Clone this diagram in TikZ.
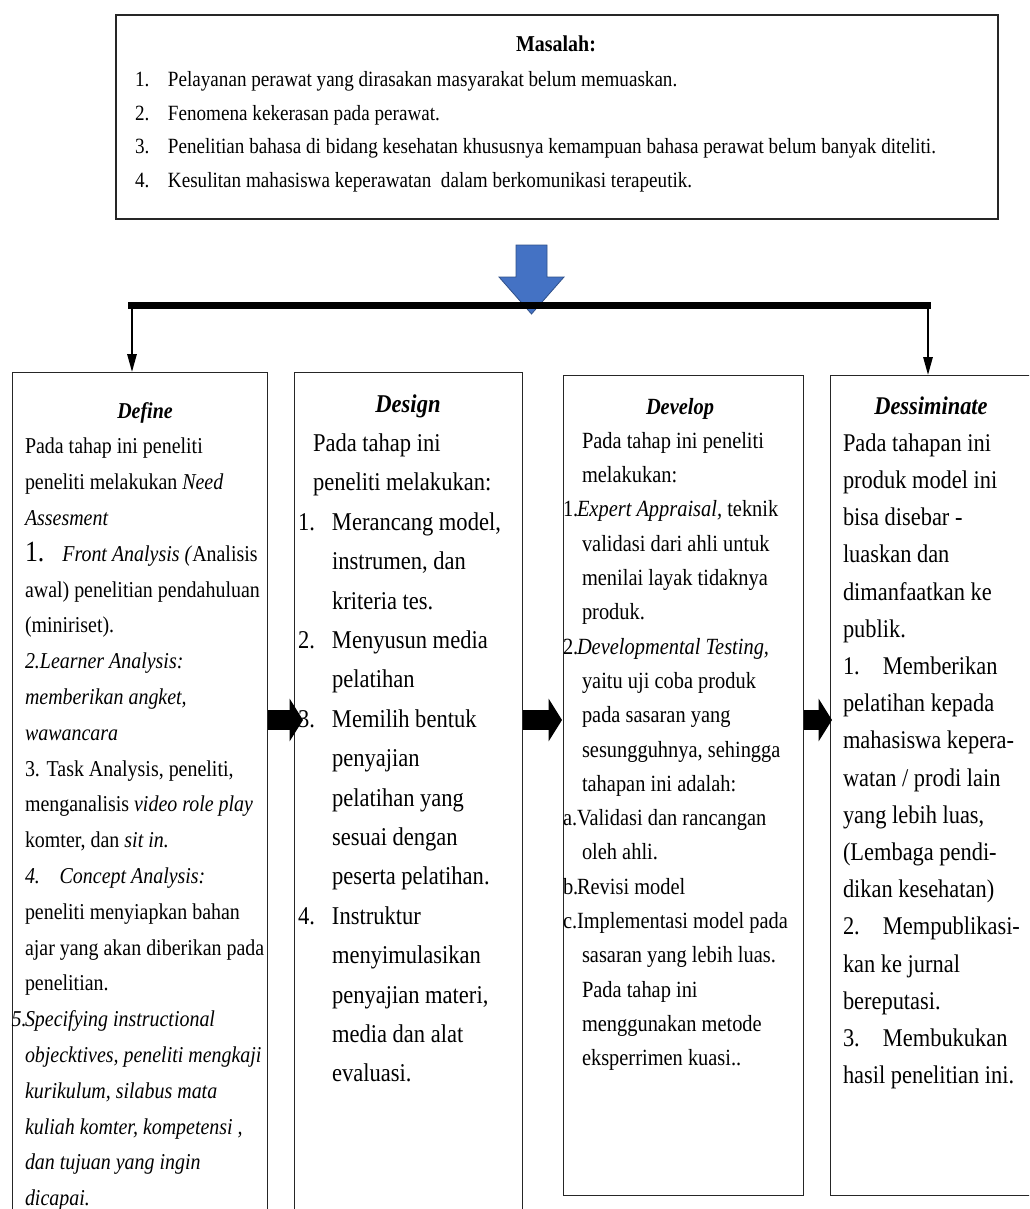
\documentclass[tikz,border=0pt]{standalone}
\usepackage{fontspec}
\setmainfont{Liberation Serif}[FakeStretch=0.88]
\usetikzlibrary{arrows.meta}

% fixed-width slot for list numbers
\newcommand\numbox[2]{\makebox[#1][l]{#2}}
\newcommand\fMas{\fontsize{16.3}{19}\selectfont}
\newcommand\fDef{\fontsize{17}{20}\selectfont}
\newcommand\fDes{\fontsize{19.2}{22}\selectfont}
\newcommand\fDev{\fontsize{17.4}{20}\selectfont}
\newcommand\fDis{\fontsize{19.1}{22}\selectfont}

\begin{document}
\begin{tikzpicture}[x=0.75pt,y=-0.75pt,
  frame/.style={draw=black!85, line width=1.1pt, rectangle, inner sep=0pt, anchor=north west},
  ln/.style={anchor=base west, inner sep=0pt, outer sep=0pt},
  hdr/.style={anchor=base, inner sep=0pt},
  drop/.style={line width=1.5pt, -{Triangle[length=13.5pt,width=7pt]}},
  bar/.style={line width=5.25pt},
  blockarrow/.style={line width=15pt, -{Triangle[length=10pt,width=31.5pt]}},
  bluearrow/.style={fill=officeblue, draw=officeblue!70!black, line width=0.6pt},
]
\definecolor{officeblue}{HTML}{4472C4}
\useasboundingbox (0,0) rectangle (1029,1209);
\clip (0,0) rectangle (1029,1209);
\fill[white] (0,0) rectangle (1029,1209);

% ---------- problem statement ----------
\node[frame, line width=1.4pt, minimum width=661.5pt, minimum height=153pt] (masalah) at (115,14) {};
\node[hdr, font=\bfseries\fontsize{17}{20}\selectfont] (mtitle) at (556,52) {Masalah:};
\foreach \t [count=\i] in {
  {Pelayanan perawat yang dirasakan masyarakat belum memuaskan.},
  {Fenomena kekerasan pada perawat.},
  {Penelitian bahasa di bidang kesehatan khususnya kemampuan bahasa perawat belum banyak diteliti.},
  {Kesulitan mahasiswa keperawatan\ \ dalam berkomunikasi terapeutik.}}
  \node[ln, font=\fMas] (m\i) at (135, 53.5+\i*33.5) {\numbox{24.75pt}{\i.}\t};

% ---------- big blue arrow and distribution bar ----------
\fill[bluearrow] (516,245) -- (547,245) -- (547,277) -- (564,277) -- (531.5,314)
  -- (499,277) -- (516,277) -- cycle;
\coordinate (barL) at (128,305);
\coordinate (barR) at (931,305);
\draw[bar] (barL) -- (barR);

% ---------- the four stage boxes ----------
\node[frame, minimum width=191.25pt, minimum height=651pt] (define) at (12,372) {};
\node[frame, minimum width=171pt, minimum height=651pt] (design) at (294,372) {};
\node[frame, minimum width=180pt, minimum height=615pt] (develop) at (563,375) {};
\node[frame, minimum width=157.5pt, minimum height=615pt] (dessim) at (830,375) {};

\coordinate (dropL) at (132,305);
\coordinate (dropR) at (928,305);
\draw[drop] (dropL) -- (dropL |- define.north);
\draw[drop] (dropR) -- (dropR |- dessim.north);

% block arrows between stages
\coordinate (row) at (0,720);
\draw[blockarrow, shorten >=-6.75pt] (define.east |- row) -- (design.west |- row);
\draw[blockarrow, shorten >=0.75pt] (design.east |- row) -- (develop.west |- row);
\draw[blockarrow, shorten >=-1.5pt] (develop.east |- row) -- (dessim.west |- row);

% ---------- Define ----------
\node[hdr, font=\fDef\bfseries\itshape] (defH) at (145,418) {Define};
\foreach \t [count=\i] in {
  {Pada tahap ini peneliti},
  {peneliti melakukan \textit{Need}},
  {\textit{Assesment}},
  {\numbox{28pt}{\fontsize{22}{22}\selectfont 1.}\textit{Front Analysis (}Analisis},
  {awal) penelitian pendahuluan},
  {(miniriset).},
  {\textit{2.Learner Analysis:}},
  {\textit{memberikan angket,}},
  {\textit{wawancara}},
  {3. Task Analysis, peneliti,},
  {menganalisis \textit{video role play}},
  {komter, dan \textit{sit in.}},
  {\textit{\numbox{26pt}{4.}Concept Analysis:}},
  {peneliti menyiapkan bahan},
  {ajar yang akan diberikan pada},
  {penelitian.},
  {\llap{\numbox{10pt}{\textit{5.}}}\textit{Specifying instructional}},
  {\textit{objecktives, peneliti mengkaji}},
  {\textit{kurikulum, silabus mata}},
  {\textit{kuliah komter, kompetensi ,}},
  {\textit{dan tujuan yang ingin}},
  {\textit{dicapai.}}}
  \node[ln, font=\fDef] (def\i) at (25, 418+\i*35.8) {\t};

% ---------- Design ----------
\node[hdr, font=\fDes\bfseries\itshape] (desH) at (408,412) {Design};
\foreach \t [count=\i] in {
  {\hspace*{11.25pt}Pada tahap ini},
  {\hspace*{11.25pt}peneliti melakukan:},
  {\numbox{25.5pt}{1.}Merancang model,},
  {\hspace*{25.5pt}instrumen, dan},
  {\hspace*{25.5pt}kriteria tes.},
  {\numbox{25.5pt}{2.}Menyusun media},
  {\hspace*{25.5pt}pelatihan},
  {\numbox{25.5pt}{3.}Memilih bentuk},
  {\hspace*{25.5pt}penyajian},
  {\hspace*{25.5pt}pelatihan yang},
  {\hspace*{25.5pt}sesuai dengan},
  {\hspace*{25.5pt}peserta pelatihan.},
  {\numbox{25.5pt}{4.}Instruktur},
  {\hspace*{25.5pt}menyimulasikan},
  {\hspace*{25.5pt}penyajian materi,},
  {\hspace*{25.5pt}media dan alat},
  {\hspace*{25.5pt}evaluasi.}}
  \node[ln, font=\fDes] (des\i) at (298, 412+\i*39.4) {\t};

% ---------- Develop ----------
\node[hdr, font=\fDev\bfseries\itshape] (devH) at (680,414) {Develop};
\foreach \t [count=\i] in {
  {\hspace*{14.25pt}Pada tahap ini peneliti},
  {\hspace*{14.25pt}melakukan:},
  {\numbox{10.5pt}{1.}\textit{Expert Appraisal,} teknik},
  {\hspace*{14.25pt}validasi dari ahli untuk},
  {\hspace*{14.25pt}menilai layak tidaknya},
  {\hspace*{14.25pt}produk.},
  {\numbox{10.5pt}{2.}\textit{Developmental Testing,}},
  {\hspace*{14.25pt}yaitu uji coba produk},
  {\hspace*{14.25pt}pada sasaran yang},
  {\hspace*{14.25pt}sesungguhnya, sehingga},
  {\hspace*{14.25pt}tahapan ini adalah:},
  {\numbox{10.5pt}{a.}Validasi dan rancangan},
  {\hspace*{14.25pt}oleh ahli.},
  {\numbox{10.5pt}{b.}Revisi model},
  {\numbox{10.5pt}{c.}Implementasi model pada},
  {\hspace*{14.25pt}sasaran yang lebih luas.},
  {\hspace*{14.25pt}Pada tahap ini},
  {\hspace*{14.25pt}menggunakan metode},
  {\hspace*{14.25pt}eksperrimen kuasi..}}
  \node[ln, font=\fDev] (dev\i) at (563, 414+\i*34.3) {\t};

% ---------- Dessiminate ----------
\node[hdr, font=\fDis\bfseries\itshape] (disH) at (931,414) {Dessiminate};
\foreach \t [count=\i] in {
  {Pada tahapan ini},
  {produk model ini},
  {bisa disebar -},
  {luaskan dan},
  {dimanfaatkan ke},
  {publik.},
  {\numbox{30pt}{1.}Memberikan},
  {pelatihan kepada},
  {mahasiswa kepera-},
  {watan / prodi lain},
  {yang lebih luas,},
  {(Lembaga pendi-},
  {dikan kesehatan)},
  {\numbox{30pt}{2.}Mempublikasi-},
  {kan ke jurnal},
  {bereputasi.},
  {\numbox{30pt}{3.}Membukukan},
  {hasil penelitian ini.}}
  \node[ln, font=\fDis] (dis\i) at (843, 414+\i*37.2) {\t};
\end{tikzpicture}
\end{document}
